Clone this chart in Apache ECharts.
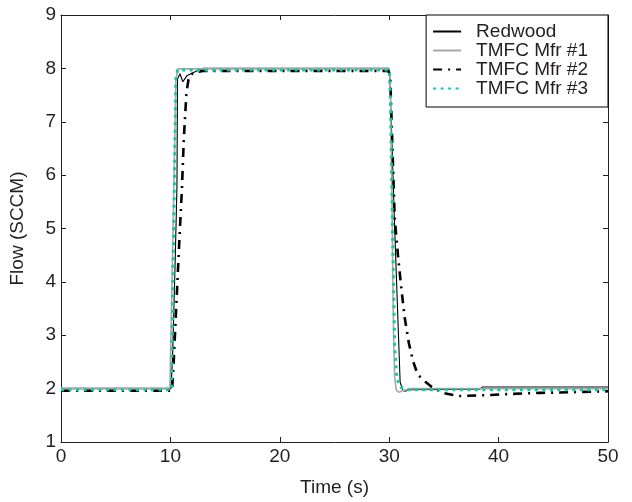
<!DOCTYPE html>
<html>
<head>
<meta charset="utf-8">
<script src="https://cdn.jsdelivr.net/npm/echarts@6/dist/echarts.min.js"></script>
<style>html,body{margin:0;padding:0;background:#fff}#c{width:632px;height:502px}</style>
</head>
<body>
<div id="c"></div>
<script>
const seriesNames = ['Redwood', 'TMFC Mfr #1', 'TMFC Mfr #2', 'TMFC Mfr #3'];
const xTicks = [0, 10, 20, 30, 40, 50];
const yTicks = [1, 2, 3, 4, 5, 6, 7, 8, 9];

const redwood = [[0,2.0],[10.05,2.0],[10.2,2.6],[10.45,4.5],[10.6,5.8],[10.65,7.8],[10.87,7.9],[11.14,7.75],[11.5,7.86],[12.4,7.95],[13,8.0],
  [29.98,8.0],[30.05,7.9],[30.5,5.0],[31.0,2.12],[31.25,1.97],[31.45,1.95],[31.8,1.98],[38.3,1.99],[38.5,2.03],[50,2.03]];
const mfr1 = [[0,2.01],[9.95,2.01],[10.05,3.0],[10.3,5.6],[10.5,7.8],[10.7,7.99],[30.0,7.99],
  [30.1,7.7],[30.25,5.5],[30.4,3.0],[30.5,2.2],[30.65,1.97],[30.9,1.93],[31.2,1.96],[32,2.0],[50,2.0]];
const mfr2 = [[0,1.96],[10.15,1.96],[10.3,2.5],[10.55,3.6],[10.8,4.7],[11.05,5.73],[11.23,6.7],[11.47,7.55],[11.7,7.85],[12.2,7.93],[13,7.95],
  [29.95,7.95],[30.1,7.8],[30.3,6.5],[30.5,5.2],[30.8,4.5],[31.1,3.9],[31.4,3.35],[31.8,2.85],[32.2,2.5],[32.6,2.27],[33.0,2.18],[33.9,2.03],[34.9,1.92],[36.3,1.86],[39.3,1.88],[41,1.9],[43.8,1.92],[50,1.95]];
const mfr3 = [[0,1.98],[10.1,1.98],[10.2,3.5],[10.35,5.7],[10.5,7.8],[10.65,7.97],[30.0,7.97],
  [30.1,7.5],[30.3,5.0],[30.5,2.8],[30.7,2.18],[31.1,2.02],[31.5,1.98],[50,1.98]];

const axisColor = '#231f20';
const font = 'Liberation Sans, Arial, sans-serif';
const chart = echarts.init(document.getElementById('c'), null, {renderer: 'canvas'});

function xAx(pos, show) {
  return {
    type: 'value', position: pos, min: xTicks[0], max: xTicks[xTicks.length-1], interval: 10,
    axisLine: {show: true, onZero: false, lineStyle: {color: axisColor, width: 1}},
    axisTick: {show: true, inside: true, length: 5, lineStyle: {color: axisColor}},
    axisLabel: {show: show, margin: 5, color: axisColor, fontSize: 19, fontFamily: font},
    splitLine: {show: false},
    name: show ? 'Time (s)' : '', nameLocation: 'middle', nameGap: 36,
    nameTextStyle: {color: axisColor, fontSize: 19, fontFamily: font}
  };
}
function yAx(pos, show) {
  return {
    type: 'value', position: pos, min: yTicks[0], max: yTicks[yTicks.length-1], interval: 1,
    axisLine: {show: true, onZero: false, lineStyle: {color: axisColor, width: 1}},
    axisTick: {show: true, inside: true, length: 5, lineStyle: {color: axisColor}},
    axisLabel: {show: show, margin: 5, color: axisColor, fontSize: 19, fontFamily: font},
    splitLine: {show: false},
    name: show ? 'Flow (SCCM)' : '', nameLocation: 'middle', nameGap: 34, nameRotate: 90,
    nameTextStyle: {color: axisColor, fontSize: 19, fontFamily: font}
  };
}

function ser(name, data, color, width, type, z) {
  return {
    name: name, type: 'line', data: data, showSymbol: false, symbol: 'none', z: z,
    lineStyle: {color: color, width: width, type: type},
    itemStyle: {color: color}, animation: false
  };
}

chart.setOption({
  animation: false,
  grid: {left: 56, right: 24, top: 15, bottom: 51, containLabel: false},
  xAxis: [xAx('bottom', true), xAx('top', false)],
  yAxis: [yAx('left', true), yAx('right', false)],
  legend: {
    orient: 'vertical', right: 24, top: 15,
    padding: [7, 20, 9, 6], itemGap: 0, itemWidth: 28, itemHeight: 10,
    borderColor: '#000', borderWidth: 1, backgroundColor: '#fff', borderRadius: 0,
    data: seriesNames,
    itemStyle: {color: 'transparent', borderColor: 'transparent', borderWidth: 0, opacity: 0},
    textStyle: {color: axisColor, fontSize: 19, lineHeight: 19, fontFamily: font, padding: [0, 0, 0, 10]}
  },
  series: [
    ser(seriesNames[0], redwood, '#000000', 1.1, 'solid', 2),
    ser(seriesNames[1], mfr1, '#a8a8a8', 1.6, 'solid', 3),
    ser(seriesNames[2], mfr2, '#000000', 2.6, [9, 6, 2, 6], 4),
    ser(seriesNames[3], mfr3, '#10cba6', 3, [3, 4.5], 5)
  ]
});
</script>
</body>
</html>
